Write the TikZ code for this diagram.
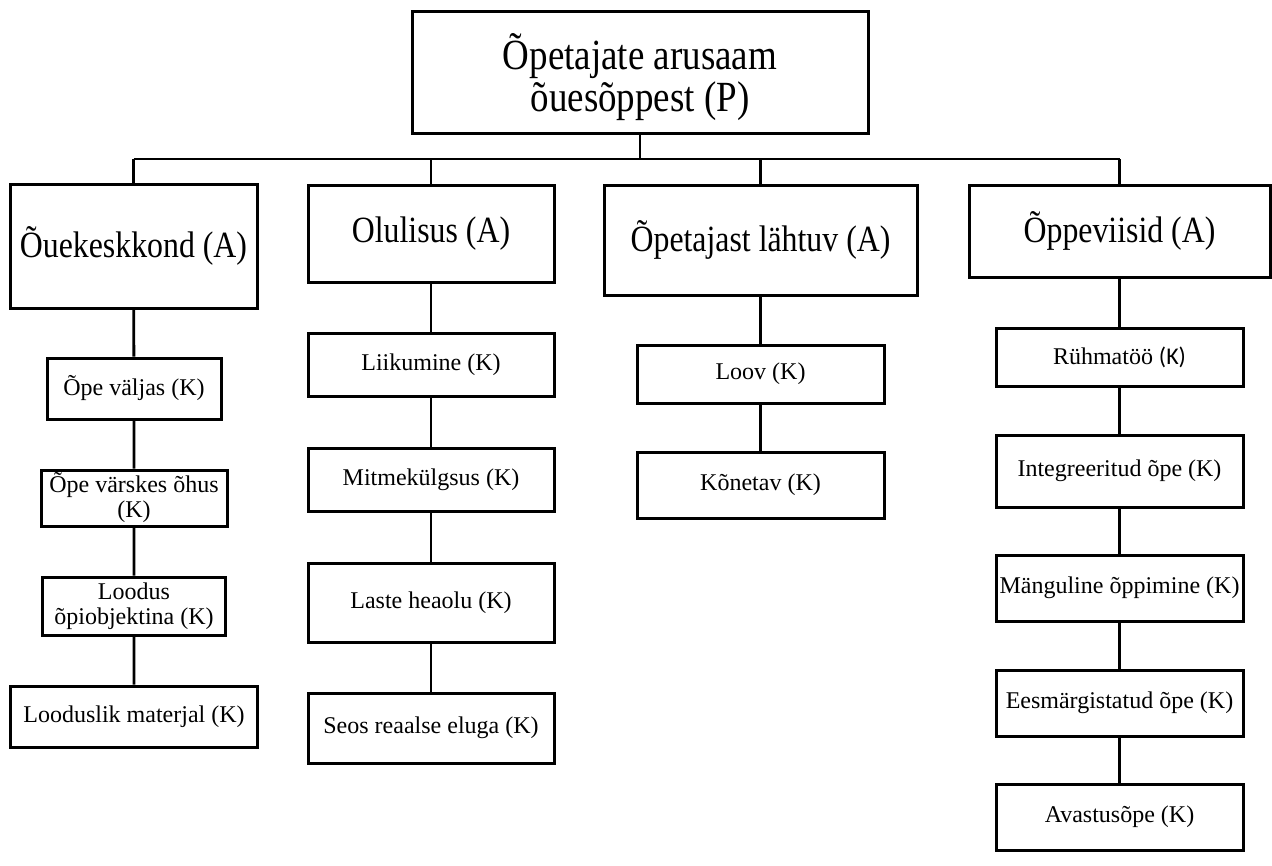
\documentclass[tikz,border=0pt]{standalone}
\usepackage{fontspec}
\setmainfont{Liberation Serif}
\newfontfamily\bigserif{Liberation Serif}[FakeStretch=0.86]
\newfontfamily\ksans{Carlito}
\begin{document}
\begin{tikzpicture}[x=1pt,y=-1pt,
  box/.style={draw=black,line width=3pt,rectangle,inner sep=1pt,align=center,fill=white},
  ptext/.style={font=\bigserif\fontsize{43}{42}\selectfont},
  atext/.style={font=\bigserif\fontsize{37}{38}\selectfont},
  ktext/.style={font=\fontsize{24}{25}\selectfont},
  link/.style={line width=2.8pt,draw=black}]
\useasboundingbox (0,0) rectangle (1272,865);
% top
\node[box,ptext,minimum width=456pt,minimum height=122pt] (P) at (640,72) {\rule{0pt}{46pt}Õpetajate arusaam\\õuesõppest (P)};
% level A
\node[box,atext,minimum width=247pt,minimum height=124pt] (A1) at (133.5,246) {Õuekeskkond (A)};
\node[box,atext,minimum width=246pt,minimum height=97pt] (A2) at (431,233.5) {Olulisus (A)};
\node[box,atext,minimum width=313pt,minimum height=110pt] (A3) at (760.5,240) {Õpetajast lähtuv (A)};
\node[box,atext,minimum width=301pt,minimum height=92pt] (A4) at (1119.5,231) {Õppeviisid (A)};
% column 1
\node[box,ktext,minimum width=174pt,minimum height=61pt] (K11) at (134,388.5) {Õpe väljas (K)};
\node[box,ktext,minimum width=186pt,minimum height=56pt] (K12) at (134,498) {Õpe värskes õhus\\(K)};
\node[box,ktext,minimum width=183pt,minimum height=58pt] (K13) at (134,606) {Loodus\\õpiobjektina (K)};
\node[box,ktext,minimum width=247pt,minimum height=61pt] (K14) at (134,716.5) {Looduslik materjal (K)};
% column 2
\node[box,ktext,minimum width=246pt,minimum height=63pt] (K21) at (431,364.5) {Liikumine (K)};
\node[box,ktext,minimum width=246pt,minimum height=63pt] (K22) at (431,479.5) {Mitmekülgsus (K)};
\node[box,ktext,minimum width=246pt,minimum height=79pt] (K23) at (431,602.5) {Laste heaolu (K)};
\node[box,ktext,minimum width=246pt,minimum height=70pt] (K24) at (431,728) {Seos reaalse eluga (K)};
% column 3
\node[box,ktext,minimum width=247pt,minimum height=58pt] (K31) at (760.5,374) {Loov (K)};
\node[box,ktext,minimum width=247pt,minimum height=66pt] (K32) at (760.5,485) {Kõnetav (K)};
% column 4
\node[box,ktext,minimum width=247pt,minimum height=58pt] (K41) at (1119.5,357) {Rühmatöö {\ksans (K)}};
\node[box,ktext,minimum width=247pt,minimum height=72pt] (K42) at (1119.5,471) {Integreeritud õpe (K)};
\node[box,ktext,minimum width=247pt,minimum height=66pt] (K43) at (1119.5,588) {Mänguline õppimine (K)};
\node[box,ktext,minimum width=247pt,minimum height=66pt] (K44) at (1119.5,703) {Eesmärgistatud õpe (K)};
\node[box,ktext,minimum width=247pt,minimum height=66pt] (K45) at (1119.5,817) {Avastusõpe (K)};
% connectors
\coordinate (bus) at (0,159);
\draw[link] (P.south) -- (P.south |- bus);
\draw[link] (A1.north |- bus) -- (A4.north |- bus);
\foreach \a in {A1,A2,A3,A4} {\draw[link] (\a.north |- bus) -- (\a.north);}
\draw[link] (A1) -- (K11) -- (K12) -- (K13) -- (K14);
\draw[link] (A2) -- (K21) -- (K22) -- (K23) -- (K24);
\draw[link] (A3) -- (K31) -- (K32);
\draw[link] (A4) -- (K41) -- (K42) -- (K43) -- (K44) -- (K45);
\end{tikzpicture}
\end{document}
